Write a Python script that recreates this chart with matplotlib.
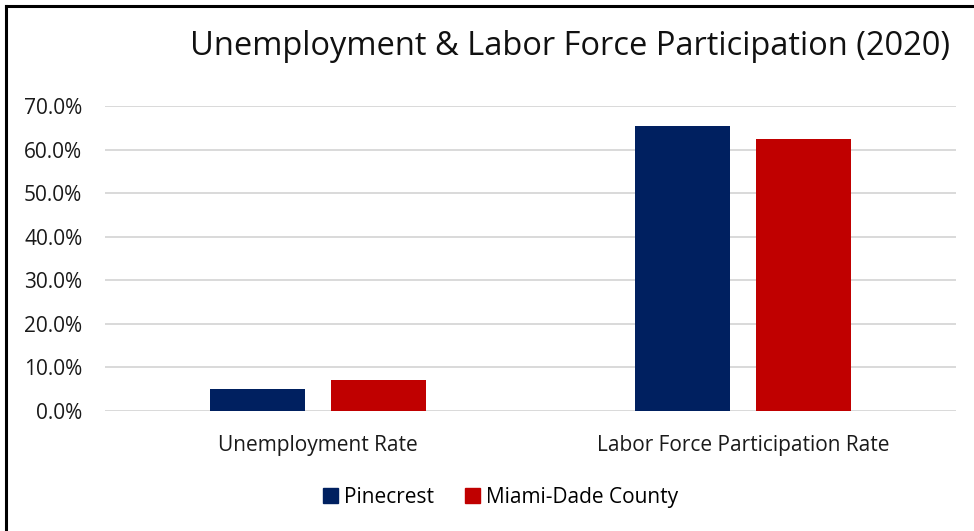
import matplotlib.pyplot as plt
import numpy as np
from matplotlib.lines import Line2D
from matplotlib.patches import Patch
from matplotlib.ticker import PercentFormatter

plt.rcParams['font.family'] = ['Open Sans', 'DejaVu Sans']

categories = ["Unemployment Rate", "Labor Force Participation Rate"]
series_names = ["Pinecrest", "Miami-Dade County"]
pinecrest = [5.0, 65.5]
miami_dade = [7.2, 62.5]
colors = ["#002060", "#C00000"]

fig = plt.figure(figsize=(9.74, 5.31), dpi=100)
ax = fig.add_axes([0.108, 0.226, 0.8735, 0.5744])

x = np.arange(len(categories))
bar_width = 0.223
offset = 0.142
for vals, off, color in zip([pinecrest, miami_dade], [-offset, offset], colors):
    ax.bar(x + off, vals, width=bar_width, color=color, zorder=3)

ax.set_xlim(-0.5, 1.5)
ax.set_ylim(0, 70)
ax.set_yticks(np.arange(0, 71, 10))
ax.yaxis.set_major_formatter(PercentFormatter(decimals=1))
ax.set_xticks(x, categories)
ax.grid(axis="y", color="#d9d9d9", linewidth=1.4, zorder=0)
for s in ax.spines.values():
    s.set_visible(False)
ax.tick_params(axis="both", length=0, labelsize=15, colors="#1a1a1a")
ax.tick_params(axis="y", pad=16.5)
ax.tick_params(axis="x", pad=17)

fig.text(0.585, 0.912, "Unemployment & Labor Force Participation (2020)",
         ha="center", va="center", fontsize=23.5, color="#111111")

handles = [Patch(color=c) for c in colors]
fig.legend(handles, series_names, loc="center", bbox_to_anchor=(0.514, 0.064),
           ncol=2, frameon=False, fontsize=15, handlelength=0.7, handleheight=0.7,
           handletextpad=0.3, columnspacing=1.5)

# frame lines along the top and left edges
fig.add_artist(Line2D([0.006, 1.0], [0.9887, 0.9887], color="black", linewidth=2.2,
                      transform=fig.transFigure))
fig.add_artist(Line2D([0.0062, 0.0062], [0.0, 0.9887], color="black", linewidth=2.2,
                      transform=fig.transFigure))

fig.savefig("out.png", dpi=100)
